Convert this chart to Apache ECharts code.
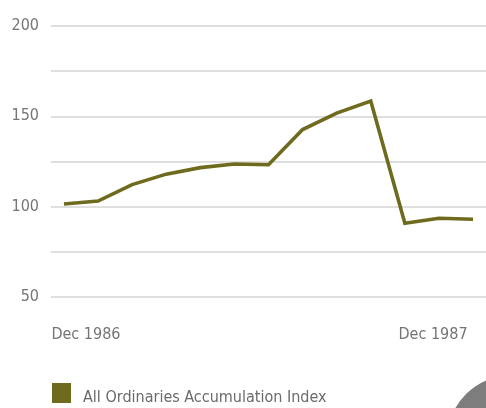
<!DOCTYPE html>
<html>
<head>
<meta charset="utf-8">
<script src="https://cdn.jsdelivr.net/npm/echarts@6/dist/echarts.min.js"></script>
<style>
  html, body { margin: 0; padding: 0; background: #ffffff; }
  #chart { width: 486px; height: 408px; }
</style>
</head>
<body>
<div id="chart"></div>
<script>
// Month-end index levels, Dec 1986 to Dec 1987
const months = ['Dec 1986', 'Jan 1987', 'Feb 1987', 'Mar 1987', 'Apr 1987', 'May 1987', 'Jun 1987',
                'Jul 1987', 'Aug 1987', 'Sep 1987', 'Oct 1987', 'Nov 1987', 'Dec 1987'];
const indexValues = [101.5, 103.1, 112.2, 118.0, 121.6, 123.6, 123.2, 142.7, 151.8, 158.5, 90.8, 93.6, 93.0];
const seriesName = 'All Ordinaries Accumulation Index';
const yTicks = [50, 100, 150, 200];
const xLabelIdx = [0, months.length - 1];

const FONT = '"Liberation Sans Narrow", "DejaVu Sans Condensed", "Liberation Sans", sans-serif';
const OLIVE = '#6e6b1e';
const LABEL = '#757575';

const chart = echarts.init(document.getElementById('chart'), null, { renderer: 'canvas' });

chart.setOption({
  backgroundColor: '#ffffff',
  animation: false,
  grid: { left: 51, right: 0, top: 26, bottom: 111, containLabel: false },
  xAxis: {
    type: 'value',
    min: -0.38,
    max: months.length - 1 + 0.38,
    axisLine: { show: false },
    axisTick: { show: false },
    splitLine: { show: false },
    axisLabel: {
      customValues: xLabelIdx,
      margin: 30,
      fontFamily: FONT,
      fontSize: 16,
      color: LABEL,
      formatter: function (v) {
        if (v === 0) return '{a|' + months[0] + '}';
        if (v === months.length - 1) return '{b|' + months[months.length - 1] + '}';
        return '';
      },
      rich: {
        // first label starts at the plot's left edge, last one ends just past the final point
        a: { fontFamily: FONT, fontSize: 16, color: LABEL, padding: [0, 0, 0, 44] },
        b: { fontFamily: FONT, fontSize: 16, color: LABEL, padding: [0, 80, 0, 0] }
      }
    }
  },
  yAxis: {
    type: 'value',
    min: 50,
    max: 200,
    interval: 25,
    axisLine: { show: false },
    axisTick: { show: false },
    splitLine: { show: true, lineStyle: { color: '#d4d4d4', width: 1.5 } },
    axisLabel: {
      margin: 12,
      fontFamily: FONT,
      fontSize: 16,
      color: LABEL,
      padding: [0, 0, 4, 0],
      formatter: function (v) { return yTicks.indexOf(v) >= 0 ? String(v) : ''; }
    }
  },
  legend: {
    data: [seriesName],
    left: 52,
    top: 383,
    padding: 0,
    icon: 'rect',
    itemWidth: 19,
    itemHeight: 20,
    formatter: function (name) { return '{t|' + name + '}'; },
    textStyle: {
      fontFamily: FONT, fontSize: 16, color: '#6a6a6a',
      rich: {
        // text sits low so its baseline lines up with the swatch's bottom edge
        t: { fontFamily: FONT, fontSize: 16, color: '#6a6a6a', padding: [10, 0, 0, 7] }
      }
    }
  },
  series: [{
    name: seriesName,
    type: 'line',
    data: indexValues.map((v, i) => [i, v]),
    symbol: 'none',
    lineStyle: { color: OLIVE, width: 3.6, join: 'miter' },
    itemStyle: { color: OLIVE }
  }],
  graphic: [{
    type: 'circle',
    shape: { cx: 512, cy: 440, r: 65 },
    style: { fill: '#7d7d7d' },
    z: 10
  }]
});
</script>
</body>
</html>
